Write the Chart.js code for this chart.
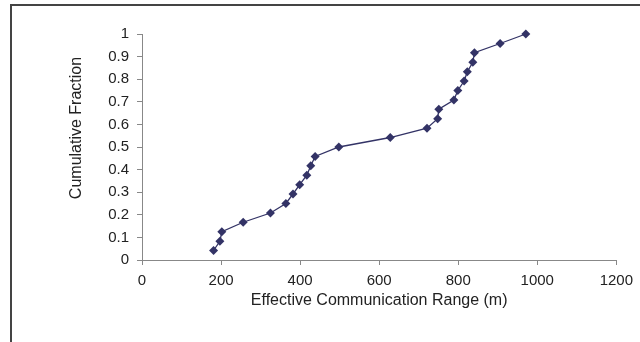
<!DOCTYPE html>
<html>
<head>
<meta charset="utf-8">
<script src="https://cdn.jsdelivr.net/npm/chart.js@4"></script>
<style>
  html, body { margin: 0; padding: 0; background: #fff; }
  #wrap { position: relative; width: 640px; height: 342px; overflow: hidden; }
  #frame { position: absolute; left: 10px; top: 4px; right: -10px; bottom: -10px;
           border-left: 2px solid #444; border-top: 2px solid #444; }
  canvas { position: absolute; left: 0; top: 0; }
</style>
</head>
<body>
<div id="wrap">
  <div id="frame"></div>
  <canvas id="chart" width="640" height="342"></canvas>
</div>
<script>
// Effective communication range (m) per node, sorted
const ranges = [181, 197, 202, 256, 325, 364, 382, 399, 417, 427, 438, 498,
                628, 721, 748, 751, 789, 799, 815, 823, 837, 841, 906, 971];
// Cumulative fraction for each range
const fractions = [0.042, 0.083, 0.125, 0.167, 0.208, 0.25, 0.292, 0.333, 0.375, 0.417, 0.458, 0.5,
                   0.542, 0.583, 0.625, 0.667, 0.708, 0.75, 0.792, 0.833, 0.875, 0.917, 0.958, 1.0];
const xTicks = [0, 200, 400, 600, 800, 1000, 1200];
const yTicks = [0, 0.1, 0.2, 0.3, 0.4, 0.5, 0.6, 0.7, 0.8, 0.9, 1];
const yTitle = 'Cumulative Fraction';

const points = ranges.map((r, i) => ({ x: r, y: fractions[i] }));
const navy = '#333366';
const family = "'Liberation Sans', Arial, sans-serif";
const tickFont = { family: family, size: 15 };
const titleFont = { family: family, size: 16 };

// y title sits a bit above the plot's middle in the original, so draw it by hand
const yTitlePlugin = {
  id: 'yTitle',
  afterDraw(chart) {
    const c = chart.ctx;
    c.save();
    c.translate(77, 128);
    c.rotate(-Math.PI / 2);
    c.font = `${titleFont.size}px ${family}`;
    c.fillStyle = '#222';
    c.textAlign = 'center';
    c.textBaseline = 'middle';
    c.fillText(yTitle, 0, 0);
    c.restore();
  }
};

const ctx = document.getElementById('chart').getContext('2d');
new Chart(ctx, {
  type: 'scatter',
  data: {
    datasets: [{
      data: points,
      showLine: true,
      clip: false,
      borderColor: navy,
      borderWidth: 1.3,
      backgroundColor: navy,
      pointStyle: 'rectRot',
      pointRadius: 4.5,
      pointBorderWidth: 0,
      tension: 0
    }]
  },
  plugins: [yTitlePlugin],
  options: {
    responsive: false,
    animation: false,
    layout: { padding: { left: 0, right: 23, top: 34, bottom: 0 } },
    plugins: { legend: { display: false }, tooltip: { enabled: false } },
    scales: {
      x: {
        type: 'linear',
        min: 0,
        max: 1200,
        afterBuildTicks: axis => { axis.ticks = xTicks.map(v => ({ value: v })); },
        afterFit: axis => { axis.height = 82; },
        grid: { drawOnChartArea: false, tickLength: 5, color: '#888' },
        border: { color: '#888', width: 1 },
        ticks: { color: '#222', font: tickFont, padding: 7, maxRotation: 0,
                 callback: v => String(v) },
        title: { display: true, text: 'Effective Communication Range (m)', color: '#222',
                 font: titleFont, padding: { top: 0, bottom: 32 } }
      },
      y: {
        min: 0,
        max: 1,
        afterBuildTicks: axis => { axis.ticks = yTicks.map(v => ({ value: v })); },
        afterFit: axis => { axis.width = 142; },
        grid: { drawOnChartArea: false, tickLength: 5, color: '#888' },
        border: { color: '#888', width: 1 },
        ticks: { color: '#222', font: tickFont, padding: 8,
                 callback: v => String(Math.round(v * 10) / 10) },
        title: { display: false }
      }
    }
  }
});
</script>
</body>
</html>
